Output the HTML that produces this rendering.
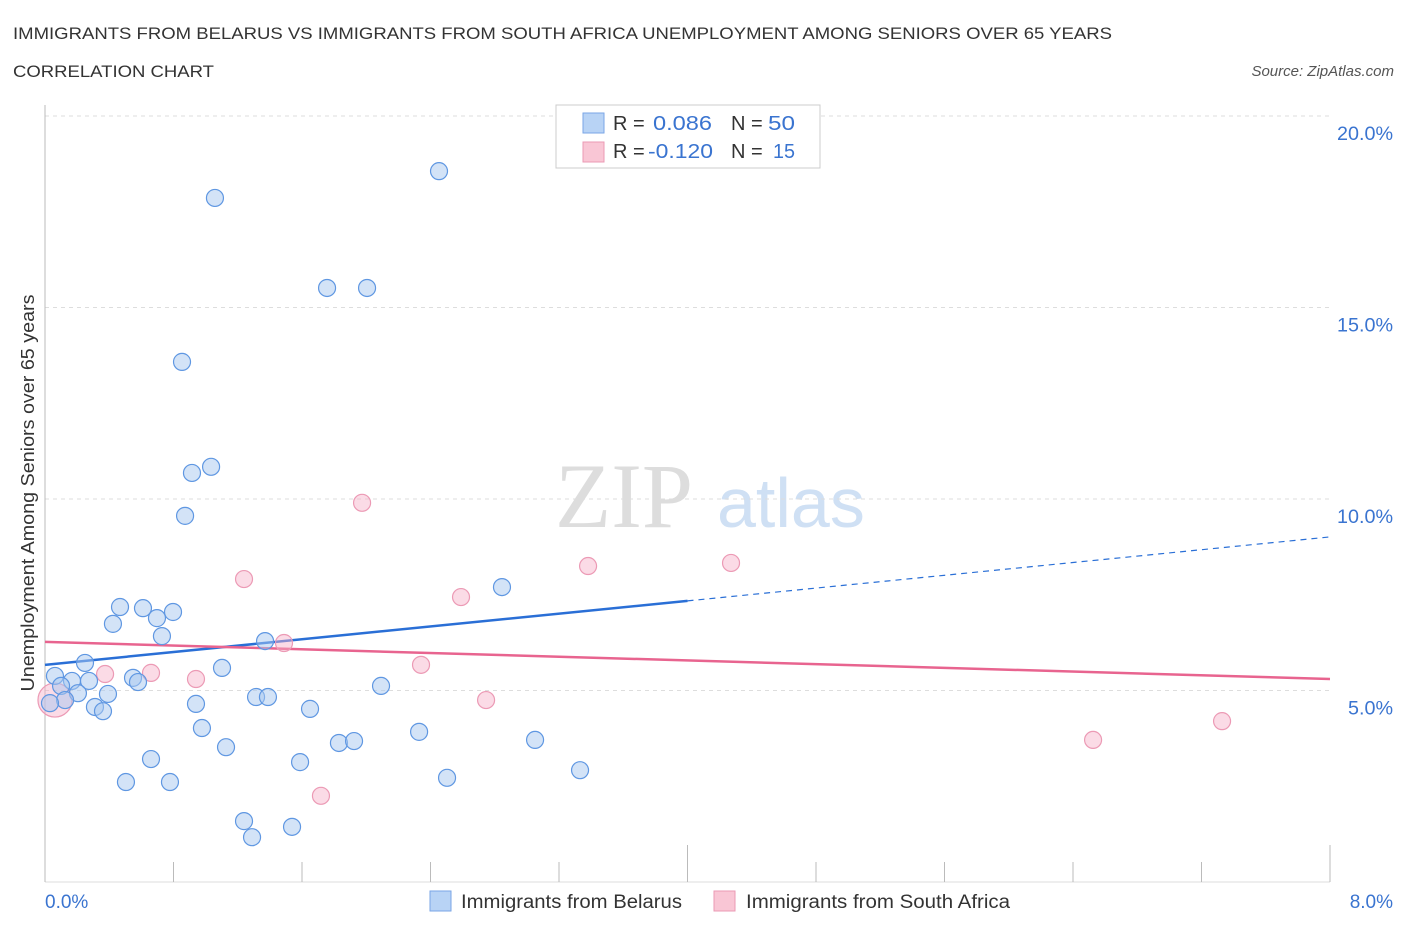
<!DOCTYPE html>
<html><head><meta charset="utf-8"><style>
body{margin:0;background:#fff;font-family:"Liberation Sans",sans-serif}
svg text{font-family:"Liberation Sans",sans-serif}
</style></head><body>
<svg id="chart" width="1406" height="930" viewBox="0 0 1406 930" xmlns="http://www.w3.org/2000/svg">
<text x="13" y="39" font-size="17" fill="#333" textLength="1099" lengthAdjust="spacingAndGlyphs">IMMIGRANTS FROM BELARUS VS IMMIGRANTS FROM SOUTH AFRICA UNEMPLOYMENT AMONG SENIORS OVER 65 YEARS</text>
<text x="13" y="77" font-size="17" fill="#333" textLength="201" lengthAdjust="spacingAndGlyphs">CORRELATION CHART</text>
<text x="1394" y="76" font-size="15" fill="#555" text-anchor="end" font-style="italic">Source: ZipAtlas.com</text>
<text x="555" y="527" font-size="92" fill="#ddd" style="font-family:'Liberation Serif',serif">ZIP</text>
<text x="717" y="527" font-size="70" fill="#cfe0f4">atlas</text>
<g id="grid"></g><g id="axes"></g><g id="trends"></g><g id="points"></g>
<text transform="translate(34,493) rotate(-90)" font-size="18" fill="#333" text-anchor="middle" textLength="397" lengthAdjust="spacingAndGlyphs">Unemployment Among Seniors over 65 years</text>
<text x="45" y="908" font-size="19" fill="#3a74d0">0.0%</text>
<text x="1393" y="908" font-size="19" fill="#3a74d0" text-anchor="end">8.0%</text>
<g>
<rect x="556" y="105" width="264" height="63" fill="#fff" stroke="#ccc"/>
<rect x="583" y="113" width="21" height="20" fill="#b8d3f5" stroke="#7aa6e6"/>
<rect x="583" y="142" width="21" height="20" fill="#f9c6d5" stroke="#eb9ab4"/>
<text x="613" y="130" font-size="20" fill="#333">R = </text><text x="653" y="130" font-size="20" fill="#3a74d0" textLength="59" lengthAdjust="spacingAndGlyphs">0.086</text>
<text x="731" y="130" font-size="20" fill="#333">N = </text><text x="768" y="130" font-size="20" fill="#3a74d0" textLength="27" lengthAdjust="spacingAndGlyphs">50</text>
<text x="613" y="158" font-size="20" fill="#333">R = </text><text x="648" y="158" font-size="20" fill="#3a74d0" textLength="65" lengthAdjust="spacingAndGlyphs">-0.120</text>
<text x="731" y="158" font-size="20" fill="#333">N = </text><text x="773" y="158" font-size="20" fill="#3a74d0" textLength="22" lengthAdjust="spacingAndGlyphs">15</text>
</g>
<g>
<rect x="430" y="891" width="21" height="20" fill="#b8d3f5" stroke="#7aa6e6"/>
<text x="461" y="908" font-size="19" fill="#333" textLength="221" lengthAdjust="spacingAndGlyphs">Immigrants from Belarus</text>
<rect x="714" y="891" width="21" height="20" fill="#f9c6d5" stroke="#eb9ab4"/>
<text x="746" y="908" font-size="19" fill="#333" textLength="264" lengthAdjust="spacingAndGlyphs">Immigrants from South Africa</text>
</g>
</svg>
<script>
const yTicks=[5,10,15,20];
const yTickLabels=["5.0%","10.0%","15.0%","20.0%"];
const xTicks=[0,0.8,1.6,2.4,3.2,4.0,4.8,5.6,6.4,7.2,8.0];
const belarusX=[2.453,1.058,1.756,2.005,0.853,1.034,0.915,0.872,2.845,0.467,0.610,0.797,0.423,0.697,0.728,1.370,0.249,1.102,0.062,0.168,0.274,0.548,0.579,2.092,0.100,0.205,0.392,0.125,1.314,1.388,0.031,0.311,0.940,0.361,1.650,0.977,2.329,1.127,1.830,1.924,3.051,0.660,1.588,3.331,2.503,0.504,0.778,1.239,1.538,1.289];
const belarusY=[18.56,17.86,15.51,15.51,13.58,10.84,10.68,9.56,7.70,7.18,7.15,7.05,6.74,6.89,6.42,6.29,5.72,5.59,5.38,5.25,5.25,5.33,5.22,5.12,5.12,4.93,4.91,4.75,4.83,4.83,4.67,4.57,4.65,4.46,4.52,4.02,3.92,3.52,3.63,3.68,3.71,3.21,3.13,2.92,2.72,2.61,2.61,1.59,1.44,1.17];
const safricaX=[1.974,1.239,3.381,4.271,2.590,1.488,0.374,0.660,2.341,0.940,2.746,7.328,6.525,1.718,0.062];
const safricaY=[9.90,7.91,8.25,8.33,7.44,6.24,5.43,5.46,5.67,5.30,4.75,4.20,3.71,2.25,4.75];
const belarusTrend=[5.67,9.01]; // y at x=0, x=8
const belarusSolidEnd=4.0;
const safricaTrend=[6.27,5.30];
const NS="http://www.w3.org/2000/svg";
const sx=v=>45+v/8*1285, sy=v=>882-v/5*191.5;
function mk(tag,attrs,parent){const e=document.createElementNS(NS,tag);for(const k in attrs)e.setAttribute(k,attrs[k]);document.getElementById(parent).appendChild(e);return e;}
yTicks.forEach((t,i)=>{
 const g=mk('line',{x1:45,x2:1330,y1:sy(t),y2:sy(t),stroke:'#ddd','stroke-dasharray':'4,4'},'grid');
 
 
 const l=mk('text',{x:1393,y:sy(t)+24,'font-size':19,fill:'#3a74d0','text-anchor':'end',textLength:yTickLabels[i].length>4?56:45,lengthAdjust:'spacingAndGlyphs'},'grid');
 l.textContent=yTickLabels[i];
 
 
});
const ya=mk('line',{x1:45,x2:45,y1:105,y2:882,stroke:'#bbb'},'axes');


const xa=mk('line',{x1:45,x2:1330,y1:882,y2:882,stroke:'#ddd'},'axes');


xTicks.forEach((t,i)=>{
 const tk=mk('line',{x1:sx(t),x2:sx(t),y1:(i==5||i==10)?845:862,y2:882,stroke:'#bbb'},'axes');
 
 
});
const bt=(x)=>belarusTrend[0]+(belarusTrend[1]-belarusTrend[0])*x/8;
const b1=mk('line',{x1:sx(0),y1:sy(bt(0)),x2:sx(belarusSolidEnd),y2:sy(bt(belarusSolidEnd)),stroke:'#2a6fd6','stroke-width':2.5},'trends');


const b2=mk('line',{x1:sx(belarusSolidEnd),y1:sy(bt(belarusSolidEnd)),x2:sx(8),y2:sy(bt(8)),stroke:'#2a6fd6','stroke-width':1.2,'stroke-dasharray':'6,5'},'trends');


const p1=mk('line',{x1:sx(0),y1:sy(safricaTrend[0]),x2:sx(8),y2:sy(safricaTrend[1]),stroke:'#e8648f','stroke-width':2.5},'trends');


safricaX.forEach((x,i)=>{
 const c=mk('circle',{cx:sx(x),cy:sy(safricaY[i]),r:i==14?17:8.5,fill:'rgba(246,176,200,0.45)',stroke:'#ec9ab5','stroke-width':1.2},'points');
 
 
});
belarusX.forEach((x,i)=>{
 const c=mk('circle',{cx:sx(x),cy:sy(belarusY[i]),r:8.5,fill:'rgba(168,200,240,0.5)',stroke:'#5f97e2','stroke-width':1.2},'points');
 
 
});
</script>
</body></html>
